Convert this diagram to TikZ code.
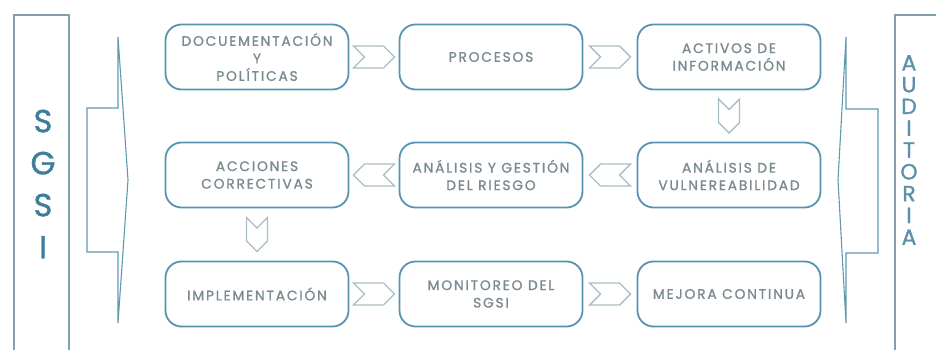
\documentclass[tikz,border=0pt]{standalone}
\usepackage{fontspec}
\setmainfont{Poppins}[LetterSpace=13, FakeBold=1.2]
\usetikzlibrary{shapes.symbols,calc}
\definecolor{borde}{HTML}{5593B0}
\definecolor{texto}{HTML}{7A8A91}
\definecolor{chevron}{HTML}{A9BDC6}
\definecolor{marco}{HTML}{7FA0AC}
\definecolor{llave}{HTML}{6198AE}
\definecolor{letra}{HTML}{3E7E9B}
\tikzset{
  caja/.style={draw=borde, line width=1.8pt, rounded corners=16pt,
    minimum width=183pt, minimum height=65pt, align=center,
    text=texto, font=\fontsize{13.8}{17.5}\selectfont, inner sep=2pt},
  chev/.style={draw=chevron, line width=1.4pt, shape=signal,
    signal pointer angle=90, inner sep=0pt},
  chevh/.style={chev, minimum width=41pt, minimum height=22pt},
  chevv/.style={chev, minimum width=21pt, minimum height=13pt,
    signal from=north, signal to=south},
  marcolinea/.style={draw=marco, line width=1.3pt},
  llavelinea/.style={draw=llave, line width=1.1pt, line join=miter},
}
\begin{document}
\begin{tikzpicture}[x=1pt,y=-1pt]
  \useasboundingbox (0,0) rectangle (936,350);
  % marcos laterales
  \draw[marcolinea] (14,350) -- (14,15) -- (69,15) -- (69,350);
  \draw[marcolinea] (936,15) -- (895,15) -- (895,350);
  \node[text=letra, align=center, font=\fontsize{32}{42}\selectfont]
    (sgsi) at (43,184) {S\\G\\S\\I};
  \node[text=letra!85!white, align=center, font=\fontsize{22}{21.8}\selectfont]
    (auditoria) at (909,150) {A\\U\\D\\I\\T\\O\\R\\I\\A};
  % llaves
  \draw[llavelinea] (118,37) -- (118,108) -- (87,108) -- (87,252)
    -- (118,252) -- (118,323) -- (128,180) -- cycle;
  \draw[llavelinea] (846,37) -- (846,109) -- (878,109) -- (878,253)
    -- (846,253) -- (846,323) -- (838,180) -- cycle;
  % cajas
  \path
    (257,57) node[caja] (doc) {DOCUEMENTACIÓN\\Y\\POLÍTICAS}
    (491,57) node[caja] (proc) {PROCESOS}
    (729,57) node[caja] (act) {ACTIVOS DE\\INFORMACIÓN}
    (729,175) node[caja] (vuln) {ANÁLISIS DE\\VULNEREABILIDAD}
    (491,175) node[caja] (riesgo) {ANÁLISIS Y GESTIÓN\\DEL RIESGO}
    (257,175) node[caja] (acc) {ACCIONES\\CORRECTIVAS}
    (257,294) node[caja] (impl) {IMPLEMENTACIÓN}
    (491,294) node[caja] (mon) {MONITOREO DEL\\SGSI}
    (729,294) node[caja] (mej) {MEJORA CONTINUA};
  % flechas
  \node[chevh, signal from=west, signal to=east] at ($(doc.east)!0.5!(proc.west)$) {};
  \node[chevh, signal from=west, signal to=east] at ($(proc.east)!0.5!(act.west)$) {};
  \node[chevv] at ($(act.south)!0.5!(vuln.north)$) {};
  \node[chevh, signal from=east, signal to=west] at ($(vuln.west)!0.5!(riesgo.east)$) {};
  \node[chevh, signal from=east, signal to=west] at ($(riesgo.west)!0.5!(acc.east)$) {};
  \node[chevv] at ($(acc.south)!0.5!(impl.north)$) {};
  \node[chevh, signal from=west, signal to=east] at ($(impl.east)!0.5!(mon.west)$) {};
  \node[chevh, signal from=west, signal to=east] at ($(mon.east)!0.5!(mej.west)$) {};
\end{tikzpicture}
\end{document}
